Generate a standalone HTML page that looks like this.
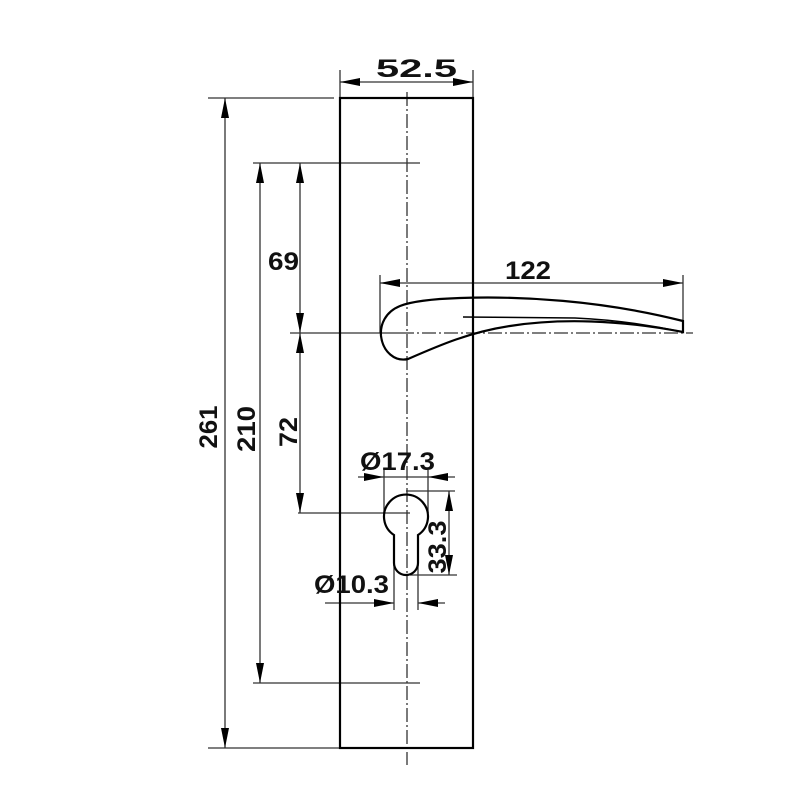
<!DOCTYPE html><html><head><style>body{margin:0;background:#fff}svg{display:block}text{font-family:"Liberation Sans",sans-serif;font-weight:bold;font-size:25px;fill:#111}</style></head><body>
<svg width="800" height="800" viewBox="0 0 800 800">
<defs><marker id="a" viewBox="0 0 20 8" refX="20" refY="4" markerWidth="20" markerHeight="8" markerUnits="userSpaceOnUse" orient="auto-start-reverse"><path d="M0,0L20,4L0,8z" fill="#000"/></marker></defs>
<g stroke="#333" stroke-width="1.3" fill="none">
<line x1="208" y1="98" x2="334" y2="98"/><line x1="208" y1="748" x2="340" y2="748"/>
<line x1="253" y1="163" x2="420" y2="163"/><line x1="253" y1="683" x2="420" y2="683"/>
<line x1="290" y1="333" x2="400" y2="333"/><line x1="298" y1="513" x2="410" y2="513"/>
<line x1="340" y1="70" x2="340" y2="98"/><line x1="473" y1="70" x2="473" y2="98"/>
<line x1="380" y1="275" x2="380" y2="333"/><line x1="683" y1="275" x2="683" y2="333"/>
<line x1="225" y1="98" x2="225" y2="748" marker-start="url(#a)" marker-end="url(#a)"/>
<line x1="260" y1="163" x2="260" y2="683" marker-start="url(#a)" marker-end="url(#a)"/>
<line x1="300" y1="163" x2="300" y2="333" marker-start="url(#a)" marker-end="url(#a)"/>
<line x1="300" y1="333" x2="300" y2="513" marker-start="url(#a)" marker-end="url(#a)"/>
<line x1="340" y1="82" x2="473" y2="82" marker-start="url(#a)" marker-end="url(#a)"/>
<line x1="380" y1="283" x2="683" y2="283" marker-start="url(#a)" marker-end="url(#a)"/>
<line x1="358" y1="477" x2="384" y2="477" marker-end="url(#a)"/><line x1="428" y1="477" x2="455" y2="477" marker-start="url(#a)"/><line x1="384" y1="477" x2="428" y2="477"/>
<line x1="384" y1="470" x2="384" y2="513"/><line x1="428" y1="470" x2="428" y2="513"/>
<line x1="325" y1="603" x2="394" y2="603" marker-end="url(#a)"/><line x1="418" y1="603" x2="445" y2="603" marker-start="url(#a)"/>
<line x1="394" y1="560" x2="394" y2="610"/><line x1="418" y1="560" x2="418" y2="610"/>
<line x1="406" y1="491" x2="455" y2="491"/><line x1="410" y1="575" x2="457" y2="575"/>
<line x1="449" y1="491" x2="449" y2="575" marker-start="url(#a)" marker-end="url(#a)"/>
<line x1="407" y1="92" x2="407" y2="765" stroke-dasharray="14,3,2,3"/>
<line x1="400" y1="333" x2="693" y2="333" stroke-dasharray="14,3,2,3"/>
</g>
<rect x="340" y="98" width="133" height="650" fill="none" stroke="#000" stroke-width="2.2"/>
<g fill="none" stroke="#000" stroke-width="2.2">
<path d="M683,321 C600,300 520,296 460,298 C430,299 410,302 400,306 C385,312 380,325 381,336 C383,352 395,362 408,359 C440,345 470,332 510,326 C560,318 620,320 683,332 Z"/>
<path d="M463,317 L575,318 C620,320 655,326 683,332" stroke-width="1.5"/>
<path d="M394,535 A22,22 0 1 1 418,535 L418,563 A12,12 0 0 1 394,563 Z"/>
</g>
<text x="376" y="77" textLength="81" lengthAdjust="spacingAndGlyphs">52.5</text>
<text x="505" y="279" textLength="46" lengthAdjust="spacingAndGlyphs">122</text>
<text x="268" y="270" textLength="31" lengthAdjust="spacingAndGlyphs">69</text>
<text x="360" y="470" textLength="75" lengthAdjust="spacingAndGlyphs">Ø17.3</text>
<text x="314" y="593" textLength="75" lengthAdjust="spacingAndGlyphs">Ø10.3</text>
<text transform="translate(217,427) rotate(-90)" text-anchor="middle" textLength="43" lengthAdjust="spacingAndGlyphs">261</text>
<text transform="translate(255,429) rotate(-90)" text-anchor="middle" textLength="46" lengthAdjust="spacingAndGlyphs">210</text>
<text transform="translate(297,432) rotate(-90)" text-anchor="middle" textLength="30" lengthAdjust="spacingAndGlyphs">72</text>
<text transform="translate(446,547) rotate(-90)" text-anchor="middle" textLength="53" lengthAdjust="spacingAndGlyphs">33.3</text>
</svg></body></html>
